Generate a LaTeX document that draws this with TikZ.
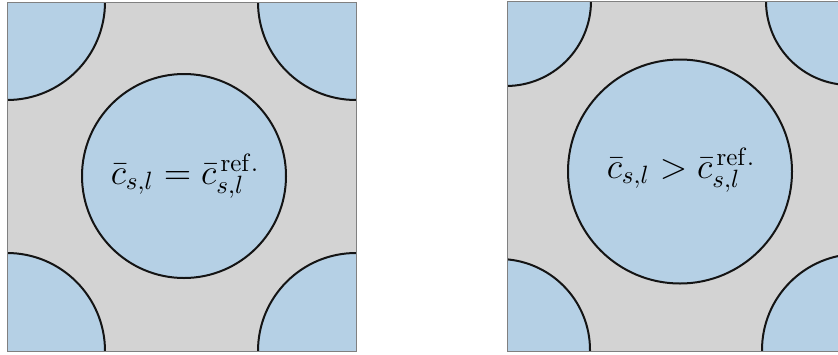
\documentclass[tikz,border=0pt]{standalone}
\usepackage{tikz}
\usepackage{xcolor}
\definecolor{grainblue}{RGB}{181,208,229}
\definecolor{cellgray}{RGB}{211,211,211}
\definecolor{edgegray}{RGB}{128,128,128}
\definecolor{lineblack}{RGB}{20,20,20}

\begin{document}
\begin{tikzpicture}[
  x=0.4pt, y=-0.4pt,
  cell/.style={fill=cellgray},
  edge/.style={draw=edgegray, line width=0.4pt},
  grain/.style={fill=grainblue, draw=lineblack, line width=0.8pt},
  lbl/.style={font=\Large, inner sep=0pt}
]
\useasboundingbox (0,0) rectangle (838,354);

% reference state
\begin{scope}
  \clip (7,2) rectangle (356,351);
  \fill[cell] (7,2) rectangle (356,351);
  \foreach \cx/\cy in {7/2, 356/2, 7/351, 356/351}
    \draw[grain] (\cx,\cy) circle[radius=98*0.4pt];
  \draw[grain] (184,176) circle[radius=102*0.4pt];
\end{scope}
\draw[edge] (7,2) rectangle (356,351);
\node[lbl] (eqref) at (185,176) {$\bar{c}_{s,l} = \bar{c}_{s,l}^{\,\mathrm{ref.}}$};

% grown state
\begin{scope}
  \clip (507,1) rectangle (838,351);
  \fill[cell] (507,1) rectangle (853,351);
  \foreach \cx/\cy/\r in {506/1/85, 850/1/84, 499/350/91, 858/350/96}
    \draw[grain] (\cx,\cy) circle[radius=\r*0.4pt];
  \draw[grain] (680,171.5) circle[radius=112*0.4pt];
\end{scope}
\draw[edge] (838,1) -- (507,1) -- (507,351) -- (838,351);
\node[lbl] (eqgrow) at (681,170) {$\bar{c}_{s,l} > \bar{c}_{s,l}^{\,\mathrm{ref.}}$};
\end{tikzpicture}
\end{document}
